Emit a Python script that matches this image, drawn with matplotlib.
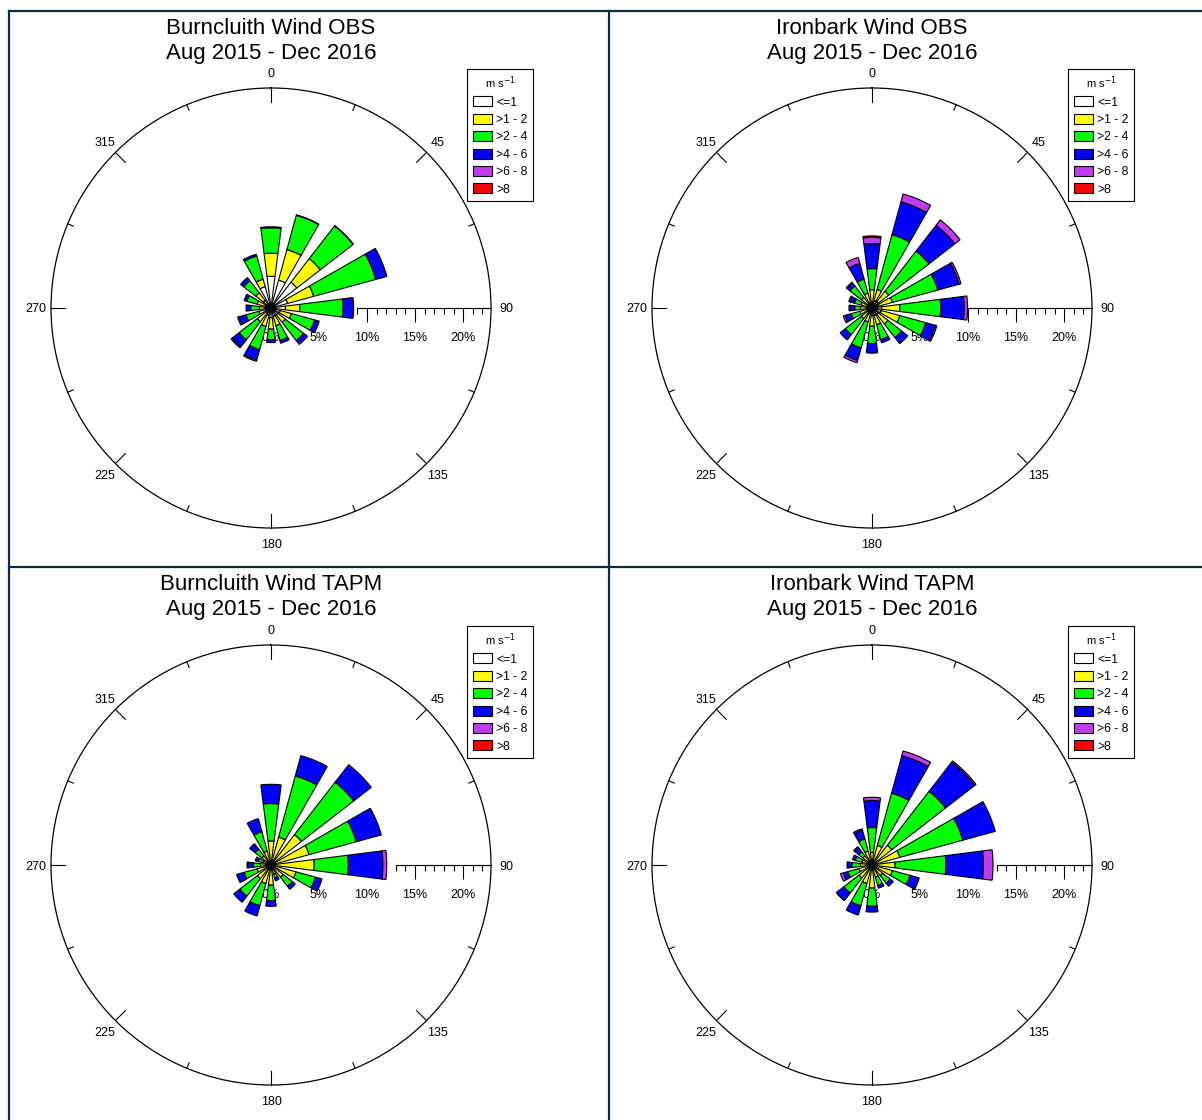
import numpy as np
import matplotlib
matplotlib.use("Agg")
import matplotlib.pyplot as plt
from matplotlib.patches import Patch
from matplotlib.lines import Line2D
from matplotlib.markers import TICKDOWN

plt.rcParams['font.family'] = ['Liberation Sans', 'DejaVu Sans']

W, H, DPI = 1202, 1120, 100

# 16 wind directions (degrees, clockwise from north)
directions = [0, 22.5, 45, 67.5, 90, 112.5, 135, 157.5,
              180, 202.5, 225, 247.5, 270, 292.5, 315, 337.5]
speed_classes = ['<=1', '>1 - 2', '>2 - 4', '>4 - 6', '>6 - 8', '>8']
class_colors = ['#ffffff', '#ffff00', '#00ff00', '#0000ff', '#c03cf0', '#ff0000']
compass_angles = [0, 45, 90, 135, 180, 225, 270, 315]
compass_labels = ['0', '45', '90', '135', '180', '225', '270', '315']
pct_labels = [0, 5, 10, 15, 20]

# Frequency (% of hours) per direction for each speed class
burn_obs_le1 = [3.3, 3.0, 3.4, 1.8, 1.5, 1.0, 0.9, 0.9, 1.0, 0.8, 0.7, 0.6, 0.6, 0.6, 1.0, 2.3]
burn_obs_1_2 = [2.4, 3.3, 3.1, 2.8, 1.5, 1.2, 1.0, 1.0, 1.2, 1.2, 1.1, 0.7, 0.6, 0.9, 1.0, 0.8]
burn_obs_2_4 = [2.65, 3.7, 4.3, 6.7, 4.5, 2.5, 2.4, 1.6, 1.1, 2.5, 2.4, 1.4, 0.9, 1.1, 1.6, 2.5]
burn_obs_4_6 = [0.1, 0.05, 0.05, 1.2, 1.1, 0.5, 0.5, 0.3, 0.3, 1.1, 0.9, 0.75, 0.5, 0.3, 0.4, 0.2]
burn_obs_6_8 = [0, 0, 0, 0, 0, 0, 0, 0, 0, 0.15, 0.15, 0.15, 0, 0, 0, 0]
burn_obs_gt8 = [0, 0, 0, 0, 0, 0, 0, 0, 0, 0, 0, 0, 0, 0, 0, 0]

iron_obs_le1 = [0.6, 0.8, 0.8, 0.7, 1.0, 1.0, 0.8, 0.8, 0.8, 0.6, 0.5, 0.5, 0.5, 0.5, 0.5, 0.6]
iron_obs_1_2 = [1.3, 1.2, 1.4, 1.5, 1.9, 2.0, 1.3, 1.0, 1.1, 0.9, 0.9, 0.8, 0.7, 0.7, 0.9, 1.0]
iron_obs_2_4 = [2.2, 5.9, 5.3, 4.9, 4.25, 2.8, 1.8, 1.6, 1.8, 2.8, 2.1, 0.95, 0.6, 0.7, 1.5, 1.5]
iron_obs_4_6 = [2.6, 3.55, 3.4, 2.3, 2.45, 1.05, 0.8, 0.35, 1.0, 1.35, 0.7, 0.65, 0.45, 0.45, 0.4, 1.7]
iron_obs_6_8 = [0.65, 0.85, 0.7, 0.2, 0.35, 0.15, 0, 0, 0, 0.25, 0, 0.2, 0.15, 0.15, 0.1, 0.65]
iron_obs_gt8 = [0.15, 0, 0, 0, 0, 0, 0, 0, 0, 0, 0, 0, 0, 0, 0, 0]

burn_tapm_le1 = [0.3, 0.3, 0.3, 0.3, 0.3, 0.3, 0.3, 0.2, 0.3, 0.3, 0.3, 0.3, 0.3, 0.2, 0.2, 0.2]
burn_tapm_1_2 = [2.2, 2.7, 3.7, 3.8, 4.2, 2.4, 1.3, 0.8, 1.8, 1.7, 1.5, 1.2, 0.8, 0.7, 1.0, 1.3]
burn_tapm_2_4 = [3.9, 6.6, 6.9, 5.1, 3.55, 2.1, 1.2, 0.4, 1.6, 2.4, 2.3, 1.4, 0.75, 0.5, 0.9, 2.1]
burn_tapm_4_6 = [2.0, 2.2, 2.3, 2.7, 3.6, 0.7, 0.4, 0.3, 0.6, 1.1, 0.8, 0.8, 0.55, 0.3, 0.7, 1.4]
burn_tapm_6_8 = [0, 0, 0, 0, 0.4, 0, 0, 0, 0, 0, 0, 0, 0.1, 0, 0, 0]
burn_tapm_gt8 = [0, 0, 0, 0, 0, 0, 0, 0, 0, 0, 0, 0, 0, 0, 0, 0]

iron_tapm_le1 = [0.2, 0.2, 0.2, 0.2, 0.2, 0.2, 0.2, 0.2, 0.2, 0.2, 0.2, 0.2, 0.2, 0.2, 0.2, 0.2]
iron_tapm_1_2 = [1.1, 1.9, 2.4, 2.8, 2.2, 2.0, 1.2, 1.1, 2.2, 1.8, 1.5, 1.2, 1.0, 0.9, 1.0, 1.3]
iron_tapm_2_4 = [2.6, 5.65, 7.1, 6.8, 5.3, 1.9, 1.0, 0.9, 1.9, 2.4, 2.0, 1.2, 0.9, 0.7, 0.55, 1.3]
iron_tapm_4_6 = [2.8, 4.05, 3.85, 3.5, 3.9, 1.0, 0.4, 0.3, 0.6, 1.0, 1.0, 0.5, 0.5, 0.3, 0.6, 0.95]
iron_tapm_6_8 = [0.35, 0.5, 0.15, 0, 1.0, 0, 0, 0, 0, 0, 0, 0.3, 0, 0, 0.05, 0.15]
iron_tapm_gt8 = [0, 0, 0, 0, 0, 0, 0, 0, 0, 0, 0, 0, 0, 0, 0, 0]

panels = [
    ("Burncluith Wind OBS", (271, 308),
     [burn_obs_le1, burn_obs_1_2, burn_obs_2_4, burn_obs_4_6, burn_obs_6_8, burn_obs_gt8]),
    ("Ironbark Wind OBS", (872, 308),
     [iron_obs_le1, iron_obs_1_2, iron_obs_2_4, iron_obs_4_6, iron_obs_6_8, iron_obs_gt8]),
    ("Burncluith Wind TAPM", (271, 865),
     [burn_tapm_le1, burn_tapm_1_2, burn_tapm_2_4, burn_tapm_4_6, burn_tapm_6_8, burn_tapm_gt8]),
    ("Ironbark Wind TAPM", (872, 865),
     [iron_tapm_le1, iron_tapm_1_2, iron_tapm_2_4, iron_tapm_4_6, iron_tapm_6_8, iron_tapm_gt8]),
]
period = "Aug 2015 - Dec 2016"

R_PX = 220          # radius of the rose circle in pixels
R_MAX = 22.9        # percent at the circle
PX_PER_PCT = R_PX / R_MAX
SECTOR_WIDTH = np.deg2rad(14.5)
border_color = '#08313d'

fig = plt.figure(figsize=(W / DPI, H / DPI), dpi=DPI)
fig.patch.set_facecolor('white')


def fx(px):
    return px / W


def fy(py):
    return 1 - py / H


for title, (cx, cy), classes in panels:
    ax = fig.add_axes([fx(cx - R_PX), fy(cy + R_PX), 2 * R_PX / W, 2 * R_PX / H],
                      projection='polar')
    ax.set_theta_zero_location('N')
    ax.set_theta_direction(-1)
    ax.set_ylim(0, R_MAX)
    ax.grid(False)
    ax.set_yticks([])
    ax.set_xticks([])
    ax.spines['polar'].set_linewidth(0.9)
    ax.spines['polar'].set_color('black')

    theta = np.deg2rad(directions)
    bottom = np.zeros(len(directions))
    for vals, col in zip(classes, class_colors):
        vals = np.asarray(vals, dtype=float)
        keep = vals > 0
        ax.bar(theta[keep], vals[keep], width=SECTOR_WIDTH, bottom=bottom[keep],
               color=col, edgecolor='black', linewidth=0.8, zorder=2)
        bottom += vals

    # compass tick marks pointing inward from the rim, labels outside
    for a in np.arange(0, 360, 22.5):
        t = np.deg2rad(a)
        length = 14 if a % 45 == 0 else 6
        ax.plot([t, t], [R_MAX, R_MAX - length / PX_PER_PCT], color='black',
                lw=0.8, zorder=3, clip_on=False)
    for a, lab in zip(compass_angles, compass_labels):
        t = np.deg2rad(a)
        ax.annotate(lab, xy=(t, R_MAX),
                    xytext=(15.5 * np.sin(t), 15.5 * np.cos(t) - 1.5),
                    textcoords='offset pixels', ha='center', va='center',
                    fontsize=9, annotation_clip=False)

    # percentage scale along the east direction
    east = np.pi / 2
    start = int(np.ceil(bottom[directions.index(90)]))
    ax.plot([east, east], [start, R_MAX], color='black', lw=0.8, zorder=3, clip_on=False)
    minor_r = [r for r in range(start, int(R_MAX) + 1) if r % 5]
    major_r = [r for r in range(start, int(R_MAX) + 1) if r % 5 == 0]
    ax.plot([east] * len(minor_r), minor_r, ls='none', marker=TICKDOWN,
            markersize=4, mew=0.8, color='black', zorder=3, clip_on=False)
    ax.plot([east] * len(major_r), major_r, ls='none', marker=TICKDOWN,
            markersize=10, mew=0.8, color='black', zorder=3, clip_on=False)
    for p in pct_labels:
        ax.annotate(f"{p}%", xy=(east, p), xytext=(0, -30), textcoords='offset pixels',
                    ha='center', va='center', fontsize=9, zorder=1)

    # legend
    handles = [Patch(facecolor=c, edgecolor='black', linewidth=0.8) for c in class_colors]
    leg = ax.legend(handles, speed_classes, title='m s$^{-1}$', title_fontsize=8,
                    fontsize=8.8, loc='upper left',
                    bbox_to_anchor=(fx(cx + 196), fy(cy - 239)),
                    bbox_transform=fig.transFigure, borderaxespad=0,
                    handlelength=1.6, handleheight=0.9, handletextpad=0.35,
                    labelspacing=0.42, borderpad=0.45, fancybox=False,
                    framealpha=1, edgecolor='black')
    leg.get_frame().set_linewidth(0.8)

    fig.text(fx(cx), fy(cy - 308 + 28), title, ha='center', va='center', fontsize=16)
    fig.text(fx(cx), fy(cy - 308 + 53), period, ha='center', va='center', fontsize=16)

# panel frame
for (x0, y0, x1, y1) in [(8.5, 10.5, 8.5, H), (8.5, 10.5, W, 10.5),
                         (609, 10.5, 609, H), (8.5, 566.7, W, 566.7)]:
    fig.add_artist(Line2D([fx(x0), fx(x1)], [fy(y0), fy(y1)], color=border_color,
                          lw=1.6, transform=fig.transFigure))

fig.savefig('out.png', dpi=DPI, facecolor='white')
